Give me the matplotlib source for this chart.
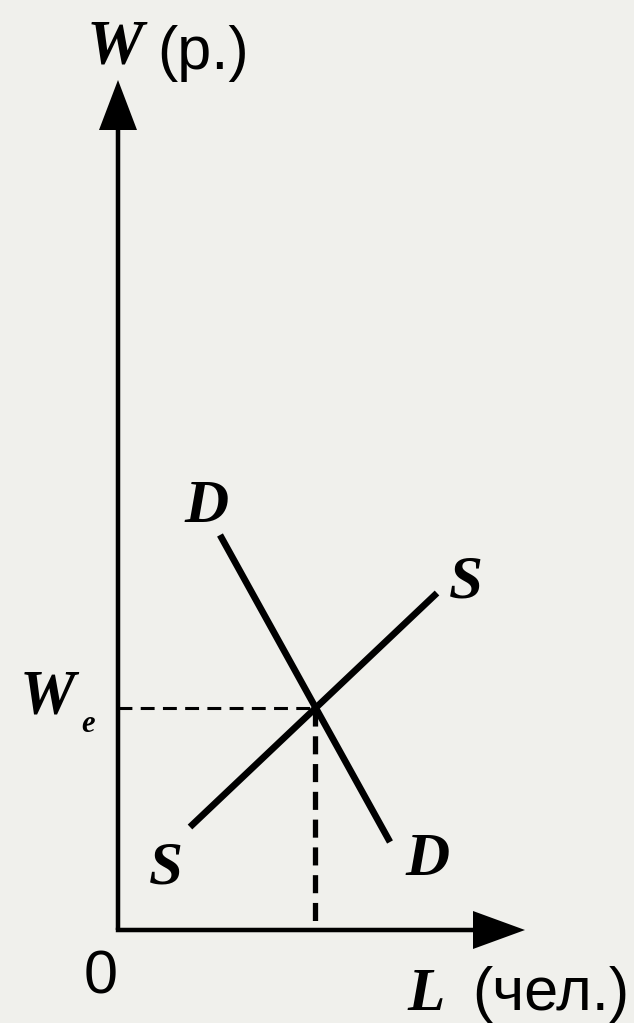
#importing package
import numpy as np
import matplotlib
matplotlib.use('Agg')
import matplotlib.pyplot as plt

plt.rcParams['lines.scale_dashes'] = False

#curve end points (L, W)
demand_L = [102, 272]
demand_W = [395, 88]
supply_L = [72, 319]
supply_W = [103, 337]

#equilibrium point
L_e = 197
W_e = 222

#axis lengths
L_max = 407
W_max = 850

bg = '#f0f0ec'
serif = 'Liberation Serif'
sans = 'Liberation Sans'

fig = plt.figure(figsize=(6.34, 10.23), dpi=100, facecolor=bg)
ax = fig.add_axes([0, 0, 1, 1])
ax.set_facecolor(bg)
ax.set_xlim(-118, 516)
ax.set_ylim(-93, 930)
ax.axis('off')

#axes with arrows
ax.arrow(0, 0, 0, W_max, width=4.5, head_width=38, head_length=50,
         length_includes_head=True, color='black', lw=0)
ax.arrow(-2.2, 0, L_max + 2.2, 0, width=4.5, head_width=38, head_length=52,
         length_includes_head=True, color='black', lw=0)

#demand and supply curves
ax.plot(demand_L, demand_W, color='black', lw=4.8, solid_capstyle='butt')
ax.plot(supply_L, supply_W, color='black', lw=4.8, solid_capstyle='butt')

#dashed guide lines
ax.plot([0, L_e], [W_e, W_e], color='black', lw=2.2, linestyle=(0, (10, 6)))
ax.plot([L_e, L_e], [W_e, 0], color='black', lw=3.8, linestyle=(0, (13, 7)))

#labels
ax.text(-3, 867, 'W', family=serif, style='italic', weight='bold',
        fontsize=46, ha='center', va='baseline')
ax.text(39, 861, '(р.)', family=sans, fontsize=44, ha='left', va='baseline')
ax.text(-70, 217, 'W', family=serif, style='italic', weight='bold',
        fontsize=45, ha='center', va='baseline')
ax.text(-37, 198, 'e', family=serif, style='italic', weight='bold',
        fontsize=22, ha='left', va='baseline')
ax.text(-17, -63, '0', family=sans, fontsize=44, ha='center', va='baseline')
ax.text(308, -80, 'L', family=serif, style='italic', weight='bold',
        fontsize=44, ha='center', va='baseline')
ax.text(354, -80, '(чел.)', family=sans, fontsize=44, ha='left', va='baseline')

ax.text(89, 408, 'D', family=serif, style='italic', weight='bold',
        fontsize=44, ha='center', va='baseline')
ax.text(348, 333, 'S', family=serif, style='italic', weight='bold',
        fontsize=44, ha='center', va='baseline')
ax.text(48, 47, 'S', family=serif, style='italic', weight='bold',
        fontsize=44, ha='center', va='baseline')
ax.text(310, 55, 'D', family=serif, style='italic', weight='bold',
        fontsize=44, ha='center', va='baseline')

fig.savefig('out.png', dpi=100, facecolor=bg)
